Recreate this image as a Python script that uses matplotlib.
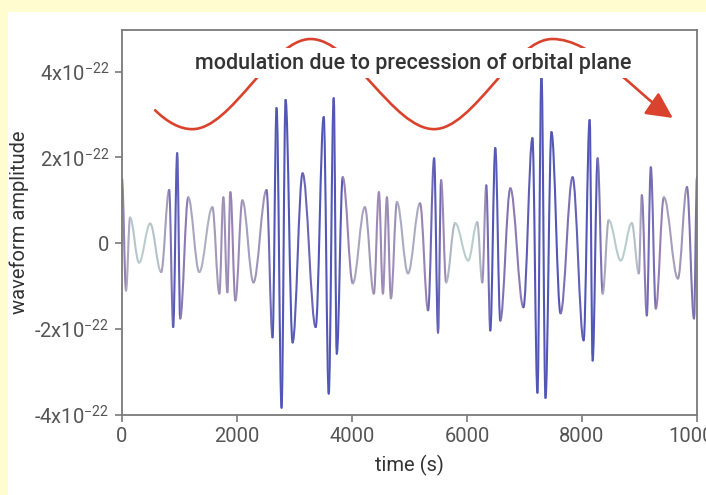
import numpy as np
import matplotlib
matplotlib.use('Agg')
import matplotlib.pyplot as plt
from matplotlib.path import Path
from matplotlib.patches import PathPatch, FancyArrowPatch, Rectangle
from matplotlib.colors import LinearSegmentedColormap, Normalize

plt.rcParams['font.family'] = ['Roboto', 'DejaVu Sans']
plt.rcParams['mathtext.fontset'] = 'custom'
plt.rcParams['mathtext.rm'] = 'Roboto'
plt.rcParams['mathtext.it'] = 'Roboto:italic'
plt.rcParams['mathtext.bf'] = 'Roboto:bold'

# turning points of the waveform (time in s, amplitude in 1e-22)
turn_t = [0, 70, 140, 297, 489, 681, 820, 890, 960, 1012, 1152, 1344, 1571,
          1693, 1763, 1832, 1885, 1972, 2094, 2286, 2513, 2618, 2688, 2775,
          2845, 2967, 3141, 3368, 3508, 3595, 3682, 3735, 3839, 4014, 4223,
          4380, 4468, 4538, 4607, 4677, 4782, 4974, 5183, 5323, 5428, 5497,
          5550, 5637, 5794, 6021, 6178, 6265, 6335, 6405, 6492, 6579, 6754,
          6981, 7138, 7225, 7295, 7365, 7469, 7627, 7836, 8028, 8133, 8185,
          8272, 8360, 8464, 8674, 8866, 8988, 9040, 9127, 9197, 9284, 9424,
          9668, 9825, 9948, 10000]
turn_h = [1.5, -1.1, 0.6, -0.45, 0.46, -0.67, 1.24, -1.95, 2.1, -1.75, 1.07,
          -0.67, 0.84, -1.17, 1.07, -1.14, 1.19, -1.33, 1.0, -0.91, 1.24,
          -2.19, 3.15, -3.83, 3.34, -2.31, 1.63, -1.95, 2.94, -3.5, 3.38,
          -2.57, 1.54, -0.93, 0.84, -1.17, 1.19, -1.17, 1.07, -1.28, 0.96,
          -0.7, 0.93, -1.56, 1.98, -2.08, 1.47, -0.91, 0.47, -0.4, 0.49,
          -0.91, 1.35, -2.03, 2.22, -1.8, 1.28, -1.49, 2.45, -3.48, 3.97,
          -3.6, 2.59, -1.63, 1.54, -2.26, 2.87, -2.73, 1.98, -1.17, 0.54,
          -0.4, 0.47, -0.7, 1.12, -1.68, 1.77, -1.52, 1.07, -0.82, 1.31,
          -1.75, 1.54]

# red "precession" arrow: anchor points and slopes at them
arrow_t = [576, 1222, 3281, 5427, 7486, 9580]
arrow_h = [3.10, 2.66, 4.76, 2.66, 4.76, 2.92]
arrow_slope = [-0.0013, 0, 0, 0, 0, -0.00092]

xticks = [0, 2000, 4000, 6000, 8000, 10000]
yticks = [-4, -2, 0, 2, 4]
ytick_labels = [r'-4x10$^{-22}$', r'-2x10$^{-22}$', '0', r'2x10$^{-22}$', r'4x10$^{-22}$']
note = 'modulation due to precession of orbital plane'

scale = 1e-22
fig = plt.figure(figsize=(7.06, 4.95), dpi=100, facecolor='#fffcd0')
fig.add_artist(Rectangle((8 / 706, 0), 1, 1 - 12 / 495, transform=fig.transFigure,
                         facecolor='white', edgecolor='none', zorder=-1))
ax = fig.add_axes([122 / 706, 80 / 495, 575 / 706, 385 / 495])
ax.set_facecolor('white')

cmap = LinearSegmentedColormap.from_list('amp', ['#b9cdcc', '#9880b2', '#5257b6'])
norm = Normalize(0.45, 2.1)
k = 0.3642
for i in range(len(turn_t) - 1):
    t0, t1 = turn_t[i], turn_t[i + 1]
    y0, y1 = turn_h[i] * scale, turn_h[i + 1] * scale
    dt = t1 - t0
    verts = [(t0, y0), (t0 + k * dt, y0), (t1 - k * dt, y1), (t1, y1)]
    codes = [Path.MOVETO, Path.CURVE4, Path.CURVE4, Path.CURVE4]
    amp = (abs(turn_h[i]) + abs(turn_h[i + 1])) / 2
    ax.add_patch(PathPatch(Path(verts, codes), fill=False, edgecolor=cmap(norm(amp)),
                           lw=1.5, capstyle='round', zorder=2))

# arrow path built from hermite segments
verts = [(arrow_t[0], arrow_h[0] * scale)]
codes = [Path.MOVETO]
for i in range(len(arrow_t) - 1):
    t0, t1 = arrow_t[i], arrow_t[i + 1]
    dt = (t1 - t0) / 3
    y0, y1 = arrow_h[i], arrow_h[i + 1]
    verts += [(t0 + dt, (y0 + arrow_slope[i] * dt) * scale),
              (t1 - dt, (y1 - arrow_slope[i + 1] * dt) * scale),
              (t1, y1 * scale)]
    codes += [Path.CURVE4] * 3
arrow = FancyArrowPatch(path=Path(verts, codes), arrowstyle='-|>,head_length=1.0,head_width=0.5',
                        mutation_scale=16, color='#d9432d', lw=1.9, zorder=3)
ax.add_patch(arrow)

ax.text(5061, 4.2 * scale, note, ha='center', va='center', fontsize=15.5, color='#333333',
        fontweight='medium', zorder=4,
        bbox=dict(boxstyle='square,pad=0.22', facecolor='white', edgecolor='none'))

ax.set_xlim(0, 10000)
ax.set_ylim(-4 * scale, 4.97 * scale)
ax.set_xticks(xticks)
ax.set_xticklabels([str(v) for v in xticks])
ax.set_yticks([v * scale for v in yticks])
ax.set_yticklabels(ytick_labels)
for s in ax.spines.values():
    s.set_color('#7a7a7a')
    s.set_linewidth(1.3)
ax.tick_params(direction='out', length=5, width=1.2, color='#7a7a7a', labelcolor='#555555',
               labelsize=14.5, pad=4)
ax.set_xlabel('time (s)', fontsize=14.5, color='#333333', labelpad=6)
ax.set_ylabel('waveform amplitude', fontsize=14.5, color='#333333', labelpad=4)

fig.savefig('out.png', dpi=100, facecolor=fig.get_facecolor())
